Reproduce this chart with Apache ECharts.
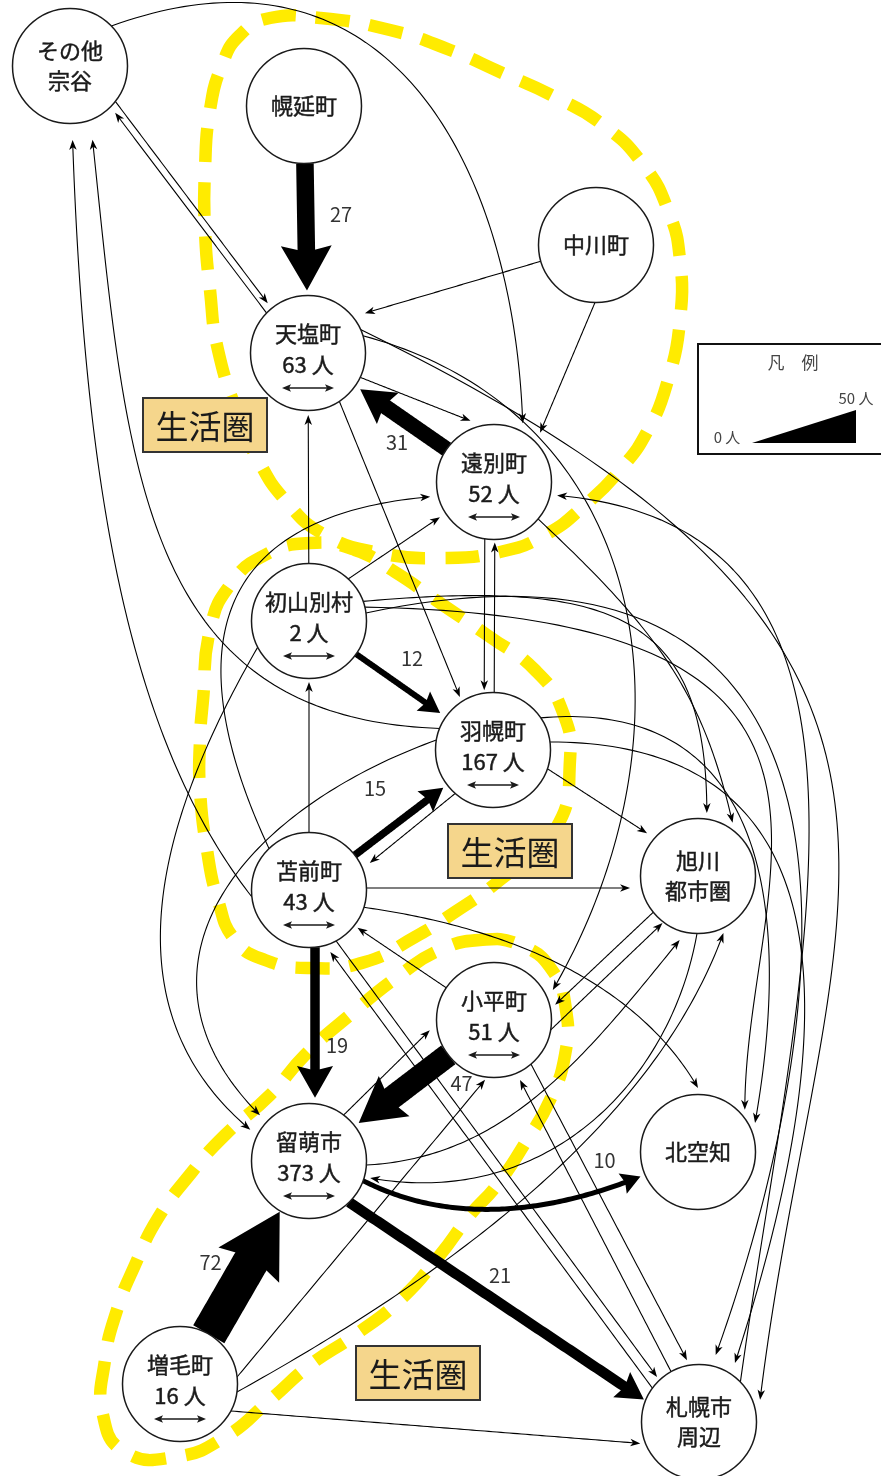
<!DOCTYPE html>
<html lang="ja">
<head>
<meta charset="utf-8">
<title>生活圏 流動図</title>
<script src="https://cdn.jsdelivr.net/npm/echarts@6/dist/echarts.min.js"></script>
<style>
html,body{margin:0;padding:0;background:#fff;}
#chart{width:881px;height:1476px;}
</style>
</head>
<body>
<div id="chart"></div>
<script>
// ================= DATA =================
// nodes (position in the diagram's own 881 x 1476 space)
const nodeNames = ['その他\n宗谷','幌延町','中川町','天塩町','遠別町','初山別村','羽幌町','苫前町','旭川\n都市圏','小平町','留萌市','北空知','増毛町','札幌市\n周辺'];
const nodeX = [70, 304, 596, 308, 494, 309, 493, 309, 698, 494, 309, 698, 180, 699];
const nodeY = [66, 106, 245, 353, 482, 621, 750, 890, 876, 1020, 1161, 1152, 1384, 1422];
const nodeCount = [null, null, null, 63, 52, 2, 167, 43, null, 51, 373, null, 16, null];
const countUnit = '人';

// flows (index into nodes); value = people (null = thin flow, no label)
const flowFrom = [1,4,5,7,7,9,12,10,10,
  3,0,0,7,6,2,2,3,3,3,3,
  4,6,4,13,5,7,5,7,5,6,
  5,5,5,6,6,6,6,7,7,9,
  13,7,9,13,10,12,12,12,8,9,
  10,8];
const flowTo = [3,3,6,6,10,10,10,13,11,
  0,3,4,0,0,3,4,4,6,9,13,
  6,4,8,4,3,5,4,4,10,10,
  8,11,13,11,13,8,7,8,11,7,
  7,13,13,9,9,9,8,13,9,8,
  8,10];
const flowValue = [27,31,12,15,19,47,72,21,10,
  null,null,null,null,null,null,null,null,null,null,null,
  null,null,null,null,null,null,null,null,null,null,
  null,null,null,null,null,null,null,null,null,null,
  null,null,null,null,null,null,null,null,null,null,
  null,null];

// 生活圏 areas (outline vertices) and their tags
const areaTag = '生活圏';
const areaTagX = [205, 510, 418];
const areaTagY = [425, 851, 1373];
const upperAreaX = [240,257,285,325,380,440,500,545,585,620,648,668,680,680,668,642,603,555,500,450,390,320,270,240,222,210,205,205,210,218];
const upperAreaY = [420,458,500,535,553,558,552,535,505,470,430,380,320,260,210,163,125,97,72,50,30,18,18,35,65,110,170,230,290,350];
const middleAreaX = [555,500,455,415,365,310,265,235,218,207,200,200,203,210,230,265,310,355,395,440,490,535,562,570];
const middleAreaY = [830,880,912,937,962,968,960,940,900,850,790,740,700,630,585,555,543,550,572,603,637,670,710,760];
const lowerAreaX = [480,520,552,566,565,550,527,497,470,440,400,355,310,270,225,175,125,103,105,117,135,158,192,225,270,305,350,400,440];
const lowerAreaY = [940,945,970,1010,1055,1100,1140,1185,1215,1255,1300,1335,1365,1400,1437,1457,1452,1415,1360,1310,1265,1218,1172,1135,1095,1055,1015,975,950];

// legend
const legendTitle = '凡\u3000例';
const legendMin = '0 人';
const legendMax = '50 人';

// ================= DRAWING =================
const FONT = '"Noto Sans CJK JP", "Noto Sans", sans-serif';
const R = 57.5;

// line shape styles: attach angles (a1,a2), departure / arrival directions (d1,d2), handle lengths (h1,h2), gaps, offsets
const flowShape = {
  0:{gap:5, head:1.45, w:1.3},
  1:{gap:6},
  2:{gap:7},
  3:{gap:5},
  4:{gap:6, off:-6, head:1.25},
  5:{gap:5},
  6:{gap:1},
  7:{gap:2, off:12},
  8:{a1:20, d1:27, h1:90, a2:157, gap:5, d2:-22, h2:110},
  9:{a1:-136, a2:46, gap:7.5},
  10:{a1:38, a2:-129, gap:6.5},
  11:{a1:-44, d1:-20, h1:300, a2:-64, gap:8, d2:88, h2:250},
  12:{a1:173, d1:-128, h1:200, a2:88, gap:16.5, d2:-92, h2:350},
  13:{a1:-158, d1:-178, h1:300, a2:73, gap:19.5, d2:-96, h2:330},
  14:{a2:-35, gap:12},
  15:{a1:91, a2:-47, gap:10},
  16:{a1:25, a2:-111, gap:8},
  17:{a1:57, a2:-122, gap:5},
  18:{a1:-17.5, d1:15, h1:300, a2:-27, gap:8.5, d2:120, h2:300},
  19:{a1:-24, d1:26, h1:740, a2:-20, gap:7.5, d2:97, h2:520},
  20:{off:9, gap:3},
  21:{off:1, gap:3},
  22:{a1:40, d1:43, h1:170, a2:-57, gap:6, d2:77, h2:130},
  23:{a1:-44, d1:-82, h1:429, a2:12, gap:7, d2:-175, h2:367},
  24:{gap:4.5},
  25:{gap:3.5},
  26:{a1:-47, a2:147, gap:7},
  27:{a1:-134, d1:-115, h1:180, a2:167, gap:8, d2:-5, h2:250},
  28:{a1:153, d1:120, h1:220, a2:-152, gap:9, d2:40, h2:180},
  29:{a1:190, d1:160, h1:220, a2:-137, gap:9.5, d2:45, h2:200},
  30:{a1:-20, d1:-5, h1:250, a2:-82, gap:6, d2:90, h2:200},
  31:{a1:-14, d1:1, h1:557, a2:-42, gap:5.5, d2:90, h2:233},
  32:{a1:-8, d1:-12, h1:633, a2:-76, gap:11.5, d2:110, h2:200},
  33:{a1:-34, d1:-5, h1:220, a2:-27, gap:6.5, d2:100, h2:230},
  34:{a1:-8, d1:0, h1:280, a2:-58.6, gap:11.5, d2:108, h2:400},
  35:{a1:19, a2:-140, gap:9},
  36:{a1:131, a2:-24, gap:9},
  37:{a1:-2, a2:170, gap:11.5},
  38:{a1:17.5, d1:8, h1:150, a2:-90, gap:6.5, d2:60, h2:120},
  39:{a2:38, gap:4},
  40:{a1:-144, a2:71, gap:8},
  41:{a1:62, a2:-133, gap:4},
  42:{a1:50, a2:-101, gap:5.5},
  43:{a1:-119, a2:66.6, gap:8},
  44:{a1:-53, a2:171, gap:7.5},
  45:{a1:-7, a2:98.5, gap:3},
  46:{a1:8, d1:-29, h1:250, a2:66, gap:5, d2:-70, h2:200},
  47:{a1:28, a2:160, gap:5},
  48:{a1:141, a2:-14, gap:5.5},
  49:{a1:10, a2:127, gap:1.5},
  50:{a1:4, d1:-3, h1:140, a2:106, gap:9, d2:-51, h2:150},
  51:{a1:91, d1:100, h1:150, a2:15.6, gap:6, d2:-170, h2:180}
};
const flowLabelOffset = {0:[35,-15],1:[-4,25],2:[11,-27],3:[-26,-32],4:[28,20],5:[60,-7],6:[-34,-10],7:[-4,-16],8:[101,4]};

function dirv(a){ const r = a*Math.PI/180; return [Math.cos(r), Math.sin(r)]; }
function add(p,q,k){ return [p[0]+q[0]*k, p[1]+q[1]*k]; }
function sub(p,q){ return [p[0]-q[0], p[1]-q[1]]; }
function len(v){ return Math.hypot(v[0], v[1]); }
function unit(v){ const l = len(v) || 1; return [v[0]/l, v[1]/l]; }
function bez(P,t){
  const u = 1-t, a = u*u*u, b = 3*u*u*t, c = 3*u*t*t, d = t*t*t;
  return [a*P[0][0]+b*P[1][0]+c*P[2][0]+d*P[3][0], a*P[0][1]+b*P[1][1]+c*P[2][1]+d*P[3][1]];
}
function flowGeometry(i, P1, P2){
  const s = flowShape[i] || {};
  const gap = s.gap != null ? s.gap : 6;
  let A = null, B = null;
  if (s.off) {
    const d = unit(sub(P2,P1)); const n = [-d[1], d[0]];
    const Re = R + gap;
    A = add(add(P1, d, Math.sqrt(R*R - s.off*s.off)), n, s.off);
    B = add(add(P2, d, -Math.sqrt(Re*Re - s.off*s.off)), n, s.off);
  } else {
    if (s.a1 != null) A = add(P1, dirv(s.a1), R);
    if (s.a2 != null) B = add(P2, dirv(s.a2), R + gap);
    if (!B) B = add(P2, unit(sub(A || P1, P2)), R + gap);
    if (!A) A = add(P1, unit(sub(B, P1)), R);
  }
  let C1, C2;
  if (s.d1 != null) { C1 = add(A, dirv(s.d1), s.h1); C2 = add(B, dirv(s.d2), -s.h2); }
  else { C1 = add(A, sub(B,A), 1/3); C2 = add(A, sub(B,A), 2/3); }
  return [A, C1, C2, B];
}

function renderFlow(params, api){
  const i = params.dataIndex;
  const P1 = api.coord([api.value(0), api.value(1)]);
  const P2 = api.coord([api.value(2), api.value(3)]);
  const geo = flowGeometry(i, P1, P2);
  const v = flowValue[i];
  const thick = v != null;
  const s = flowShape[i] || {};
  const hs = s.head || 1;
  const lw = thick ? v * 0.5 * (s.w || 1) : 1.1;
  const headW = thick ? (14 + v * 0.78) * hs : 7.5;
  const headL = thick ? headW * 0.88 : 10;
  const notch = thick ? 0.86 : 0.72;
  const tip = geo[3];
  let dv = sub(geo[3], geo[2]);
  if (len(dv) < 1e-6) dv = sub(geo[3], geo[0]);
  dv = unit(dv);
  const nv = [-dv[1], dv[0]];
  const base = add(tip, dv, -headL);
  const head = [tip, add(base, nv, headW/2), add(tip, dv, -headL*notch), add(base, nv, -headW/2)];
  const cut = headL * notch - 1;
  const pts = [];
  const N = 100;
  for (let k = 0; k <= N; k++) {
    const p = bez(geo, k/N);
    if (len(sub(p, tip)) <= cut) break;
    pts.push(p);
  }
  pts.push(add(tip, dv, -cut));
  const children = [
    {type:'polyline', shape:{points:pts}, style:{stroke:'#000', lineWidth:lw, fill:null, lineJoin:'round', lineCap:'butt'}},
    {type:'polygon', shape:{points:head}, style:{fill:'#000', stroke:null}}
  ];
  if (thick) {
    const o = flowLabelOffset[i] || [0,0];
    children.push({type:'text', style:{text:String(v), x:(P1[0]+P2[0])/2 + o[0], y:(P1[1]+P2[1])/2 + o[1],
      fill:'#333', fontSize:20, fontFamily:FONT, align:'center', verticalAlign:'middle'}});
  }
  return {type:'group', children};
}

function renderNode(params, api){
  const i = params.dataIndex;
  const c = api.coord([api.value(0), api.value(1)]);
  const children = [{type:'circle', shape:{cx:c[0], cy:c[1], r:R}, style:{fill:'#fff', stroke:'#1a1a1a', lineWidth:1.5}}];
  const lines = nodeNames[i].split('\n');
  const hasCount = nodeCount[i] != null;
  let rows;
  if (hasCount) rows = [[lines[0], -19], [nodeCount[i] + ' ' + countUnit, 12]];
  else if (lines.length === 2) rows = [[lines[0], -15], [lines[1], 15]];
  else rows = [[lines[0], 0]];
  rows.forEach(function(r){
    children.push({type:'text', style:{text:r[0], x:c[0], y:c[1]+r[1], fill:'#1a1a1a', stroke:'#1a1a1a', lineWidth:0.45,
      fontSize:22, fontFamily:FONT, align:'center', verticalAlign:'middle'}});
  });
  if (hasCount) {
    const y = c[1] + 35, x0 = c[0] - 26, x1 = c[0] + 26;
    children.push({type:'line', shape:{x1:x0+4, y1:y, x2:x1-4, y2:y}, style:{stroke:'#1a1a1a', lineWidth:1.3}});
    children.push({type:'polygon', shape:{points:[[x0,y],[x0+9,y-3.8],[x0+7,y],[x0+9,y+3.8]]}, style:{fill:'#1a1a1a'}});
    children.push({type:'polygon', shape:{points:[[x1,y],[x1-9,y-3.8],[x1-7,y],[x1-9,y+3.8]]}, style:{fill:'#1a1a1a'}});
  }
  return {type:'group', children};
}

const areaXs = [upperAreaX, middleAreaX, lowerAreaX];
const areaYs = [upperAreaY, middleAreaY, lowerAreaY];
function renderArea(params, api){
  const k = params.dataIndex;
  const pts = areaXs[k].map(function(x, j){ return api.coord([x, areaYs[k][j]]); });
  return {type:'polygon', shape:{points:pts, smooth:0.5},
    style:{fill:null, stroke:'#FFEB00', lineWidth:12.5, lineDash:[34,20], lineCap:'butt'}};
}
function renderTag(params, api){
  const c = api.coord([api.value(0), api.value(1)]);
  return {type:'group', children:[
    {type:'rect', shape:{x:c[0]-62, y:c[1]-27, width:124, height:54}, style:{fill:'#F5D68C', stroke:'#333', lineWidth:2}},
    {type:'text', style:{text:areaTag, x:c[0], y:c[1]+1, fill:'#1a1a1a', fontSize:33, fontFamily:FONT, align:'center', verticalAlign:'middle'}}
  ]};
}

const chart = echarts.init(document.getElementById('chart'), null, {renderer:'canvas', width:881, height:1476});
chart.setOption({
  animation:false,
  backgroundColor:'#ffffff',
  textStyle:{fontFamily:FONT},
  grid:{left:0, right:0, top:0, bottom:0, containLabel:false},
  xAxis:{type:'value', min:0, max:881, show:false},
  yAxis:{type:'value', min:0, max:1476, inverse:true, show:false},
  series:[
    {type:'custom', name:'area', coordinateSystem:'cartesian2d', clip:false, silent:true, z:1,
     data: areaXs.map(function(xs, k){ return [xs[0], areaYs[k][0]]; }), encode:{x:0, y:1}, renderItem:renderArea},
    {type:'custom', name:'tag', coordinateSystem:'cartesian2d', clip:false, silent:true, z:2,
     data: areaTagX.map(function(x, k){ return [x, areaTagY[k]]; }), encode:{x:0, y:1}, renderItem:renderTag},
    {type:'custom', name:'flow', coordinateSystem:'cartesian2d', clip:false, silent:true, z:3,
     data: flowFrom.map(function(f, i){ const t = flowTo[i]; return [nodeX[f], nodeY[f], nodeX[t], nodeY[t]]; }),
     encode:{x:[0,2], y:[1,3]}, renderItem:renderFlow},
    {type:'custom', name:'node', coordinateSystem:'cartesian2d', clip:false, silent:true, z:4,
     data: nodeX.map(function(x, i){ return [x, nodeY[i]]; }), encode:{x:0, y:1}, renderItem:renderNode}
  ],
  graphic:[
    {type:'rect', x:698, y:344, z:100, shape:{width:200, height:110}, style:{fill:'#fff', stroke:'#111', lineWidth:2}},
    {type:'text', x:793, y:363, z:101, style:{text:legendTitle, fill:'#444', fontSize:17, fontFamily:FONT, align:'center', verticalAlign:'middle'}},
    {type:'text', x:856, y:398, z:101, style:{text:legendMax, fill:'#444', fontSize:15, fontFamily:FONT, align:'center', verticalAlign:'middle'}},
    {type:'text', x:727, y:437, z:101, style:{text:legendMin, fill:'#444', fontSize:15, fontFamily:FONT, align:'center', verticalAlign:'middle'}},
    {type:'polygon', z:101, shape:{points:[[752,443],[856,443],[856,410]]}, style:{fill:'#000'}}
  ]
});
</script>
</body>
</html>
